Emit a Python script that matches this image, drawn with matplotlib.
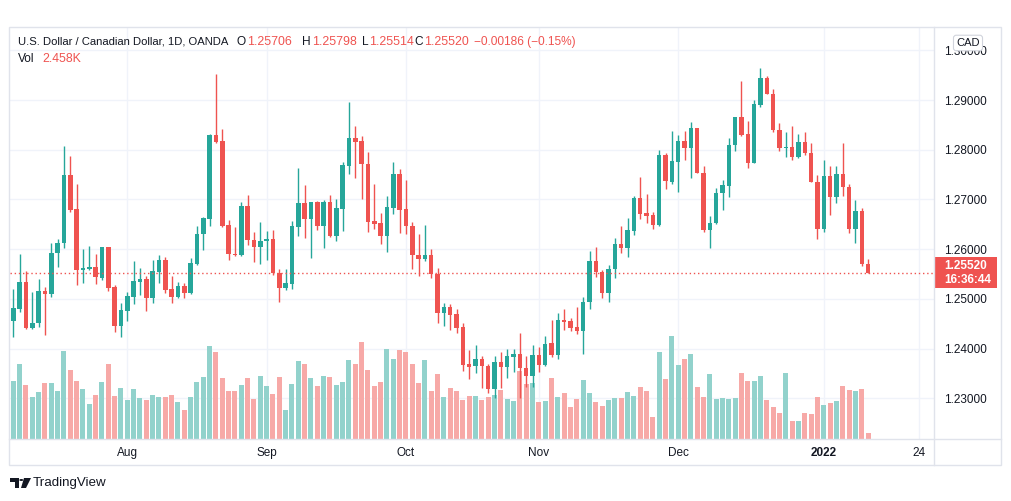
import numpy as np
import pandas as pd
import matplotlib.pyplot as plt
from matplotlib.patches import Rectangle, Circle, Polygon
from matplotlib.lines import Line2D

plt.rcParams['font.family'] = ['Liberation Sans', 'DejaVu Sans']

# daily candles USD/CAD (OANDA)
opens = [1.2456, 1.2479, 1.2534, 1.2442, 1.2452, 1.2516, 1.2509, 1.2593, 1.2612, 1.2749,
         1.2681, 1.2557, 1.2560, 1.2563, 1.2541, 1.2604, 1.2523, 1.2446, 1.2476, 1.2504,
         1.2534, 1.2540, 1.2502, 1.2554, 1.2578, 1.2519, 1.2504, 1.2526, 1.2511, 1.2571,
         1.2630, 1.2660, 1.2830, 1.2817, 1.2648, 1.2591, 1.2588, 1.2687, 1.2619, 1.2605,
         1.2616, 1.2620, 1.2551, 1.2521, 1.2530, 1.2645, 1.2693, 1.2660, 1.2695, 1.2646,
         1.2695, 1.2627, 1.2681, 1.2767, 1.2824, 1.2817, 1.2772, 1.2656, 1.2653, 1.2626,
         1.2683, 1.2751, 1.2680, 1.2646, 1.2589, 1.2580, 1.2589, 1.2549, 1.2471, 1.2483,
         1.2469, 1.2443, 1.2368, 1.2364, 1.2378, 1.2365, 1.2319, 1.2372, 1.2362, 1.2383,
         1.2389, 1.2361, 1.2344, 1.2386, 1.2367, 1.2412, 1.2387, 1.2458, 1.2455, 1.2443,
         1.2436, 1.2493, 1.2576, 1.2553, 1.2512, 1.2559, 1.2610, 1.2602, 1.2637, 1.2703,
         1.2672, 1.2669, 1.2648, 1.2789, 1.2736, 1.2776, 1.2818, 1.2804, 1.2843, 1.2754,
         1.2638, 1.2652, 1.2712, 1.2727, 1.2809, 1.2865, 1.2831, 1.2774, 1.2890, 1.2944,
         1.2913, 1.2840, 1.2804, 1.2806, 1.2786, 1.2815, 1.2793, 1.2736, 1.2640, 1.2747,
         1.2705, 1.2752, 1.2724, 1.2640, 1.2677, 1.25706]
highs = [1.2519, 1.2590, 1.2556, 1.2513, 1.2540, 1.2524, 1.2613, 1.2620, 1.2807, 1.2787,
         1.2731, 1.2601, 1.2606, 1.2590, 1.2605, 1.2605, 1.2528, 1.2491, 1.2514, 1.2576,
         1.2562, 1.2546, 1.2579, 1.2589, 1.2585, 1.2546, 1.2533, 1.2531, 1.2583, 1.2646,
         1.2664, 1.2832, 1.2952, 1.2841, 1.2658, 1.2645, 1.2695, 1.2709, 1.2635, 1.2654,
         1.2636, 1.2638, 1.2560, 1.2560, 1.2656, 1.2764, 1.2728, 1.2695, 1.2696, 1.2699,
         1.2709, 1.2701, 1.2776, 1.2897, 1.2848, 1.2828, 1.2796, 1.2731, 1.2673, 1.2707,
         1.2775, 1.2762, 1.2739, 1.2655, 1.2630, 1.2648, 1.2600, 1.2561, 1.2492, 1.2490,
         1.2479, 1.2451, 1.2397, 1.2408, 1.2384, 1.2368, 1.2384, 1.2392, 1.2399, 1.2399,
         1.2432, 1.2384, 1.2407, 1.2404, 1.2425, 1.2458, 1.2472, 1.2479, 1.2461, 1.2484,
         1.2503, 1.2596, 1.2605, 1.2558, 1.2568, 1.2622, 1.2646, 1.2662, 1.2706, 1.2746,
         1.2711, 1.2675, 1.2799, 1.2793, 1.2838, 1.2830, 1.2838, 1.2856, 1.2844, 1.2767,
         1.2667, 1.2722, 1.2739, 1.2823, 1.2866, 1.2938, 1.2858, 1.2901, 1.2965, 1.2948,
         1.2923, 1.2853, 1.2835, 1.2848, 1.2831, 1.2835, 1.2813, 1.2750, 1.2779, 1.2767,
         1.2767, 1.2814, 1.2731, 1.2699, 1.2682, 1.25798]
lows = [1.2424, 1.2474, 1.2440, 1.2440, 1.2444, 1.2428, 1.2503, 1.2563, 1.2603, 1.2675,
        1.2528, 1.2531, 1.2558, 1.2530, 1.2538, 1.2516, 1.2434, 1.2424, 1.2456, 1.2489,
        1.2507, 1.2476, 1.2492, 1.2531, 1.2511, 1.2491, 1.2501, 1.2501, 1.2510, 1.2568,
        1.2598, 1.2646, 1.2814, 1.2644, 1.2579, 1.2586, 1.2586, 1.2608, 1.2575, 1.2571,
        1.2578, 1.2548, 1.2494, 1.2517, 1.2520, 1.2627, 1.2623, 1.2583, 1.2638, 1.2603,
        1.2625, 1.2617, 1.2637, 1.2752, 1.2744, 1.2700, 1.2635, 1.2640, 1.2611, 1.2595,
        1.2670, 1.2632, 1.2630, 1.2559, 1.2546, 1.2577, 1.2541, 1.2452, 1.2446, 1.2437,
        1.2432, 1.2355, 1.2338, 1.2350, 1.2320, 1.2310, 1.2300, 1.2320, 1.2340, 1.2353,
        1.2300, 1.2323, 1.2323, 1.2353, 1.2364, 1.2382, 1.2378, 1.2437, 1.2436, 1.2430,
        1.2388, 1.2480, 1.2543, 1.2502, 1.2494, 1.2541, 1.2593, 1.2585, 1.2628, 1.2661,
        1.2652, 1.2640, 1.2646, 1.2721, 1.2731, 1.2714, 1.2779, 1.2744, 1.2753, 1.2635,
        1.2603, 1.2650, 1.2679, 1.2705, 1.2798, 1.2828, 1.2764, 1.2773, 1.2885, 1.2912,
        1.2836, 1.2798, 1.2786, 1.2779, 1.2783, 1.2789, 1.2735, 1.2620, 1.2634, 1.2669,
        1.2693, 1.2707, 1.2633, 1.2612, 1.2567, 1.25514]
closes = [1.2481, 1.2534, 1.2442, 1.2452, 1.2516, 1.2509, 1.2593, 1.2612, 1.2749, 1.2679,
          1.2558, 1.2562, 1.2564, 1.2543, 1.2604, 1.2522, 1.2446, 1.2477, 1.2505, 1.2536,
          1.2540, 1.2502, 1.2556, 1.2578, 1.2518, 1.2504, 1.2526, 1.2511, 1.2573, 1.2630,
          1.2662, 1.2830, 1.2816, 1.2647, 1.2591, 1.2588, 1.2687, 1.2618, 1.2605, 1.2616,
          1.2620, 1.2551, 1.2522, 1.2531, 1.2646, 1.2693, 1.2660, 1.2695, 1.2646, 1.2695,
          1.2626, 1.2682, 1.2769, 1.2824, 1.2816, 1.2771, 1.2655, 1.2650, 1.2626, 1.2685,
          1.2751, 1.2679, 1.2646, 1.2588, 1.2580, 1.2589, 1.2549, 1.2471, 1.2483, 1.2467,
          1.2442, 1.2367, 1.2363, 1.2378, 1.2364, 1.2319, 1.2372, 1.2362, 1.2384, 1.2389,
          1.2360, 1.2344, 1.2386, 1.2367, 1.2410, 1.2387, 1.2458, 1.2454, 1.2442, 1.2436,
          1.2493, 1.2576, 1.2553, 1.2512, 1.2559, 1.2610, 1.2602, 1.2638, 1.2703, 1.2670,
          1.2667, 1.2649, 1.2789, 1.2738, 1.2777, 1.2818, 1.2804, 1.2843, 1.2754, 1.2638,
          1.2653, 1.2712, 1.2728, 1.2809, 1.2865, 1.2830, 1.2774, 1.2892, 1.2944, 1.2913,
          1.2840, 1.2804, 1.2806, 1.2786, 1.2815, 1.2793, 1.2736, 1.2640, 1.2747, 1.2705,
          1.2752, 1.2724, 1.2640, 1.2677, 1.25706, 1.25520]
# volume, thousands
volumes = [22.8, 29.4, 21.2, 16.5, 18.5, 21.8, 21.8, 18.9, 34.4, 27.0,
           22.8, 19.6, 13.8, 17.3, 22.4, 29.4, 16.9, 20.0, 15.3, 19.6,
           16.1, 15.3, 17.3, 16.5, 16.5, 17.3, 14.6, 11.4, 16.5, 22.4,
           24.3, 36.4, 34.0, 23.9, 18.9, 18.9, 21.2, 23.9, 15.7, 24.7,
           20.8, 17.7, 24.3, 11.4, 21.6, 30.5, 29.4, 23.9, 20.8, 24.7,
           24.3, 21.2, 22.4, 30.9, 29.4, 38.0, 27.0, 20.8, 22.4, 35.2,
           31.3, 34.8, 34.0, 29.4, 22.0, 30.9, 18.9, 25.5, 16.5, 20.0,
           18.9, 15.3, 16.9, 16.9, 15.3, 16.5, 17.3, 19.2, 15.7, 15.0,
           26.6, 21.6, 21.8, 14.6, 15.0, 23.9, 16.5, 18.1, 12.6, 15.7,
           23.1, 18.1, 14.6, 13.0, 15.3, 16.1, 16.1, 18.5, 16.9, 20.4,
           18.9, 8.7, 34.0, 23.5, 40.3, 29.0, 31.3, 33.3, 20.4, 16.5,
           25.5, 15.7, 16.1, 15.7, 16.1, 25.9, 22.8, 22.8, 24.7, 15.3,
           12.6, 10.3, 25.9, 7.2, 7.2, 10.3, 9.9, 16.5, 13.4, 14.2,
           15.0, 20.8, 19.2, 18.9, 19.6, 2.458]

dates = pd.bdate_range('2021-07-07', '2022-01-12')
axis_days = pd.bdate_range('2021-07-07', '2022-01-24')
time_labels = ['Aug', 'Sep', 'Oct', 'Nov', 'Dec', '2022', '24']
price_ticks = [1.23, 1.24, 1.25, 1.26, 1.27, 1.28, 1.29, 1.30]
last_price = 1.25520
countdown = '16:36:44'

UP, DOWN = '#26a69a', '#ef5350'
UP_VOL, DOWN_VOL = '#92d2cc', '#f7a9a7'
TXT = '#131722'
LINE = '#e0e3eb'

W, H = 1012, 501
fig = plt.figure(figsize=(W / 100, H / 100), dpi=100)


def fx(x):
    return x / W


def fy(y):
    return 1 - y / H


rect = [fx(10), fy(439), fx(934) - fx(10), fy(28) - fy(439)]
ax = fig.add_axes(rect)
axv = fig.add_axes(rect, sharex=ax)
axc = fig.add_axes(rect, sharex=ax, sharey=ax)
ax.set_zorder(0)
axv.set_zorder(1)
axc.set_zorder(2)
for a in (axv, axc):
    a.patch.set_visible(False)
    a.axis('off')

x = np.arange(len(opens))
o = np.array(opens)
c = np.array(closes)
up = c >= o
colors = np.where(up, UP, DOWN)

# volume
axv.bar(x, volumes, width=0.8, color=np.where(up, UP_VOL, DOWN_VOL), lw=0)
axv.set_ylim(0, 160.3)

# candles
axc.vlines(x, lows, highs, colors=colors, lw=1)
axc.bar(x, np.maximum(np.abs(c - o), 0.00006), bottom=np.minimum(o, c),
        width=0.72, color=colors, lw=0)
axc.axhline(last_price, color=DOWN, ls=(0, (1, 2)), lw=1)

ax.set_xlim(-0.52, 145.4)
ymin, ymax = 1.22179, 1.30449
ax.set_ylim(ymin, ymax)

month_start = [i for i in range(1, len(axis_days))
               if axis_days[i].month != axis_days[i - 1].month]
tick_pos = month_start + [len(axis_days) - 1]
ax.set_xticks(tick_pos)
ax.set_xticklabels(time_labels)
for lab in ax.get_xticklabels():
    if lab.get_text() == '2022':
        lab.set_fontweight('bold')
ax.set_yticks(price_ticks)
ax.set_yticklabels(['%.5f' % p for p in price_ticks])
ax.yaxis.tick_right()
ax.tick_params(axis='both', length=0, labelsize=8.5, colors=TXT)
ax.tick_params(axis='y', pad=7.5)
ax.tick_params(axis='x', pad=5.5)
ax.grid(color='#f0f3fa', lw=1)
for s in ax.spines.values():
    s.set_visible(False)

# price label on the right scale
ytr = ax.get_yaxis_transform()
box_h = 31 * (ymax - ymin) / 411
ax.add_patch(Rectangle((1.0, last_price - box_h / 2), 63 / 924, box_h,
                       transform=ytr, clip_on=False, fc=DOWN, ec='none', zorder=5))
ax.annotate('%.5f' % last_price, (1.0, last_price), xycoords=ytr,
            xytext=(7.5, 5), textcoords='offset points', ha='left', va='center',
            color='white', fontsize=8.5, fontweight='bold', zorder=6)
ax.annotate(countdown, (1.0, last_price), xycoords=ytr,
            xytext=(7.5, -5), textcoords='offset points', ha='left', va='center',
            color='white', fontsize=8.5, fontweight='bold', zorder=6)

# frame lines
fig.add_artist(Rectangle((fx(9), fy(465)), fx(1001) - fx(9), fy(27) - fy(465),
                         fill=False, ec=LINE, lw=1))
fig.add_artist(Line2D([fx(934), fx(934)], [fy(27), fy(465)], color=LINE, lw=1))
fig.add_artist(Line2D([fx(9), fx(1001)], [fy(439), fy(439)], color=LINE, lw=1))

fig.text(fx(968), fy(43), 'CAD', ha='center', va='center', fontsize=8, color=TXT,
         bbox=dict(boxstyle='round,pad=0.25', fc='white', ec='#d1d4dc', lw=0.8))

# header
fs = 8.6
fig.text(fx(18), fy(42), 'U.S. Dollar / Canadian Dollar, 1D, OANDA', fontsize=8.1,
         color=TXT, va='center')
for lx, lab, vx, val in [(237, 'O', 247.5, opens[-1]), (302, 'H', 312, highs[-1]),
                         (362, 'L', 369.5, lows[-1]), (414, 'C', 424, closes[-1])]:
    fig.text(fx(lx), fy(42), lab, fontsize=fs, color=TXT, va='center')
    fig.text(fx(vx), fy(42), '%.5f' % val, fontsize=8.9, color=DOWN, va='center')
chg = closes[-1] - closes[-2]
fig.text(fx(474), fy(42), '\u2212%.5f (\u2212%.2f%%)' % (abs(chg), abs(chg) / closes[-2] * 100),
         fontsize=fs, color=DOWN, va='center')
fig.text(fx(18), fy(59), 'Vol', fontsize=fs, color=TXT, va='center')
fig.text(fx(42), fy(59), '%.3fK' % volumes[-1], fontsize=8.9, color=DOWN, va='center')

# TradingView logo
fig.add_artist(Polygon([(fx(10), fy(478)), (fx(19), fy(478)), (fx(19), fy(488)),
                        (fx(15), fy(488)), (fx(15), fy(481.5)), (fx(10), fy(481.5))],
                       closed=True, fc=TXT, ec='none'))
fig.add_artist(Polygon([(fx(24), fy(478)), (fx(31), fy(478)), (fx(26), fy(488)),
                        (fx(21), fy(488))], closed=True, fc=TXT, ec='none'))
fig.add_artist(Circle((fx(21.3), fy(480)), 2 / W, fc=TXT, ec='none'))
fig.text(fx(33), fy(483), 'TradingView', fontsize=9.6, color=TXT, va='center')

fig.savefig('out.png', dpi=100, facecolor='white')
